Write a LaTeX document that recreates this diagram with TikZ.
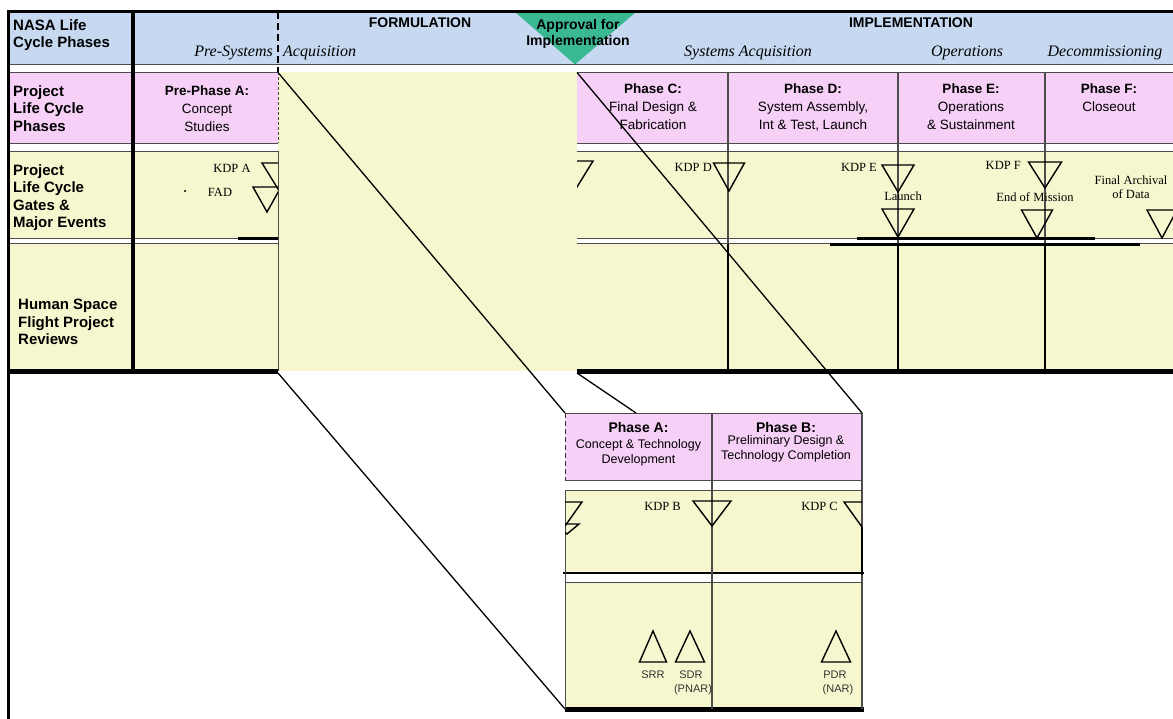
\documentclass[tikz,border=0pt]{standalone}
\usepackage{fontspec}
\setmainfont{Liberation Sans}
\newfontfamily\tnr{Liberation Serif}
\definecolor{hdrblue}{RGB}{198,217,241}
\definecolor{phpink}{RGB}{246,208,246}
\definecolor{gateyel}{RGB}{246,247,206}
\definecolor{apgreen}{RGB}{58,184,146}
\newcommand\kdptri[4]{\draw[tri] ({#1-#3},#2) -- ({#1+#3},#2) -- (#1,{#2+#4}) -- cycle;}
\newcommand\revtri[4]{\draw[tri] ({#1-#3},#2) -- ({#1+#3},#2) -- (#1,{#2-#4}) -- cycle;}
\begin{document}
\begin{tikzpicture}[x=1pt,y=-1pt,
  rowlbl/.style={anchor=north west, inner sep=0pt, align=left, font=\bfseries\fontsize{15}{17.5}\selectfont},
  phase/.style={anchor=north, inner sep=0pt, align=center, font=\fontsize{13.5}{18}\selectfont},
  boxtitle/.style={anchor=base, inner sep=0pt, font=\bfseries\fontsize{14}{15}\selectfont},
  boxph/.style={anchor=north, inner sep=0pt, align=center, font=\fontsize{12.5}{15}\selectfont},
  kdplbl/.style={inner sep=0pt, font=\tnr\fontsize{12.5}{14}\selectfont},
  era/.style={inner sep=0pt, font=\tnr\itshape\fontsize{16}{18}\selectfont},
  hdr/.style={inner sep=0pt, anchor=base, font=\bfseries\fontsize{14}{16}\selectfont},
  revlbl/.style={inner sep=0pt, anchor=base, font=\fontsize{11}{14}\selectfont, text=black!80},
  gridln/.style={draw=black!70, line width=1pt},
  tri/.style={draw=black, line width=1.4pt, line join=miter},
  zoomln/.style={draw=black, line width=1.3pt},
]
\useasboundingbox (0,0) rectangle (1173,719);
% backgrounds
\fill[white] (0,0) rectangle (1173,719);
\fill[hdrblue] (8,12) rectangle (1173,64.5);
\fill[phpink] (8,72.5) rectangle (278,143.5);
\fill[phpink] (577,72.5) rectangle (1173,143.5);
\fill[gateyel] (8,151.5) rectangle (278,238.5);
\fill[gateyel] (8,244) rectangle (278,371);
\fill[gateyel] (577,151.5) rectangle (1173,238.5);
\fill[gateyel] (577,244) rectangle (1173,371);
\fill[gateyel] (278,72.5) rectangle (577,371);
% approval triangle
\fill[apgreen] (515,12) -- (636,12) -- (575,64.5) -- cycle;
% grid lines
\draw[gridln, line width=1.6pt] (8,64.5) -- (1173,64.5);
\foreach \yy in {72.5,143.5,151.5,238.5,244} {
  \draw[gridln] (8,\yy) -- (278,\yy);
  \draw[gridln] (577,\yy) -- (1173,\yy);
}
\foreach \xx in {728,898,1045} {
  \draw[gridln, line width=1.2pt] (\xx,72.5) -- (\xx,244);
  \draw[black, line width=2pt] (\xx,244) -- (\xx,371);
}
\draw[black!75, line width=0.7pt, dash pattern=on 3pt off 2pt] (278,72.5) -- (278,143.5);
\draw[gridln, line width=0.8pt] (278,151.5) -- (278,371);
\draw[black, line width=1.8pt, dash pattern=on 7pt off 4pt] (278,12) -- (278,72.5);
% thick segments
\draw[black, line width=2.5pt] (238,238.5) -- (278,238.5);
\draw[black, line width=2.5pt] (857,238.5) -- (1095,238.5);
\draw[black, line width=2.5pt] (830,244.5) -- (1140,244.5);
% borders
\draw[black, line width=3pt] (7,12) -- (1173,12);
\draw[black, line width=3pt] (8.5,10.5) -- (8.5,719);
\draw[black, line width=4pt] (133,10.5) -- (133,373);
\draw[black, line width=5pt] (7,371) -- (278,371);
\draw[black, line width=5pt] (577,371) -- (1173,371);
% header texts
\node[rowlbl] (nasa) at (13,19) {NASA Life\\Cycle Phases};
\node[hdr] (form) at (420,27.5) {FORMULATION};
\node[hdr] (impl) at (911,27.5) {IMPLEMENTATION};
\node[hdr, align=center, anchor=north] (appr) at (578,19) {Approval for\\Implementation};
\node[era, anchor=base east] (presys) at (273,57) {Pre-Systems};
\node[era, anchor=base west] (acq) at (283,57) {Acquisition};
\node[era, anchor=base] (sysacq) at (748,57) {Systems Acquisition};
\node[era, anchor=base] (ops) at (967,57) {Operations};
\node[era, anchor=base] (decom) at (1105,57) {Decommissioning};
% phase row
\node[rowlbl] (plcp) at (13,85) {Project\\Life Cycle\\Phases};
\node[phase] (prea) at (207,86) {\textbf{Pre-Phase A:}\\Concept\\Studies};
\node[phase] (phc) at (653,84) {\textbf{Phase C:}\\Final Design \&\\Fabrication};
\node[phase] (phd) at (813,84) {\textbf{Phase D:}\\System Assembly,\\Int \& Test, Launch};
\node[phase] (phe) at (971,84) {\textbf{Phase E:}\\Operations\\\& Sustainment};
\node[phase] (phf) at (1109,84) {\textbf{Phase F:}\\Closeout};
% gates row
\node[rowlbl] (gates) at (13,164) {Project\\Life Cycle\\Gates \&\\Major Events};
\node[kdplbl, anchor=base] (kdpa) at (232,173) {KDP A};
\node[kdplbl, anchor=base] (fad) at (220,197) {FAD};
\fill[black] (185,191) circle (1.1);
\begin{scope}
  \clip (133,140) rectangle (278,240);
  \kdptri{278}{163}{16}{26}
  \kdptri{267}{187}{14}{25}
\end{scope}
\begin{scope}
  \clip (577,140) rectangle (620,240);
  \kdptri{577}{161}{16}{26}
\end{scope}
\node[kdplbl, anchor=base east] (kdpd) at (712,172) {KDP D};
\kdptri{729}{163}{15.5}{28}
\node[kdplbl, anchor=base east] (kdpe) at (877,172) {KDP E};
\kdptri{898}{165}{16}{27}
\node[kdplbl, anchor=base] (launch) at (903,201) {Launch};
\kdptri{898}{209}{16}{28}
\node[kdplbl, anchor=base east] (kdpf) at (1021,170) {KDP F};
\kdptri{1045}{162}{16.5}{26}
\node[kdplbl, anchor=base] (eom) at (1035,202) {End of Mission};
\kdptri{1037}{210}{15.5}{28}
\node[kdplbl, anchor=north, align=center] (farch) at (1131,176) {Final Archival\\of Data};
\begin{scope}
  \clip (1100,200) rectangle (1173,245);
  \kdptri{1162}{210}{15}{28}
\end{scope}
% reviews row
\node[rowlbl] (hsf) at (18,299) {Human Space\\Flight Project\\Reviews};
% zoom box
\fill[phpink] (565,413) rectangle (862,480);
\fill[gateyel] (565,490) rectangle (862,573);
\fill[gateyel] (565,582) rectangle (862,707);
\draw[gridln, line width=0.8pt] (565,413) -- (862,413);
\draw[gridln] (565,480) -- (862,480);
\draw[gridln] (565,490) -- (862,490);
\draw[gridln] (565,582) -- (862,582);
\draw[black, line width=2.5pt] (563,573) -- (864,573);
\draw[black, line width=5pt] (565,709) -- (864,709);
\draw[black!80, line width=1pt, dash pattern=on 5pt off 3pt] (565,413) -- (565,480);
\draw[gridln] (565,490) -- (565,709);
\draw[gridln, line width=1.2pt] (712,413) -- (712,709);
\draw[gridln, line width=1.2pt] (862,413) -- (862,709);
\draw[black, line width=2pt] (862,527) -- (862,575);
\node[boxtitle] (pha) at (638.5,432) {Phase A:};
\node[boxph] (phab) at (638.5,439) {Concept \& Technology\\Development};
\node[boxtitle] (phb) at (786,432) {Phase B:};
\node[boxph] (phbb) at (786,435) {Preliminary Design \&\\Technology Completion};
\begin{scope}
  \clip (565,490) rectangle (862,573);
  \kdptri{565}{502}{17}{24}
  \kdptri{567}{524}{12}{10}
  \kdptri{862}{502}{18}{25}
\end{scope}
\node[kdplbl, anchor=base east] (kdpb) at (681,510) {KDP B};
\kdptri{712}{501}{19}{25}
\node[kdplbl, anchor=base east] (kdpc) at (838,510) {KDP C};
\revtri{653}{662}{13.5}{31}
\revtri{690}{662}{14.5}{31}
\revtri{836}{662}{14.5}{31}
\node[revlbl] (srr) at (653,678) {SRR};
\node[revlbl] (sdr) at (691,678) {SDR};
\node[revlbl] (pnar) at (693,692) {(PNAR)};
\node[revlbl] (pdr) at (835,678) {PDR};
\node[revlbl] (nar) at (838,692) {(NAR)};
% zoom lines
\coordinate (zTL) at (278,72.5);
\coordinate (zTR) at (577,72.5);
\coordinate (zBL) at (278,373);
\coordinate (zBR) at (577,373);
\coordinate (bTL) at (565,413);
\coordinate (bTR) at (862,413);
\coordinate (bBL) at (565,709);
\coordinate (bMid) at (636,413);
\draw[zoomln] (zTL) -- (bTL);
\draw[zoomln] (zTR) -- (bTR);
\draw[zoomln] (zBL) -- (bBL);
\draw[zoomln] (zBR) -- (bMid);
\end{tikzpicture}
\end{document}
